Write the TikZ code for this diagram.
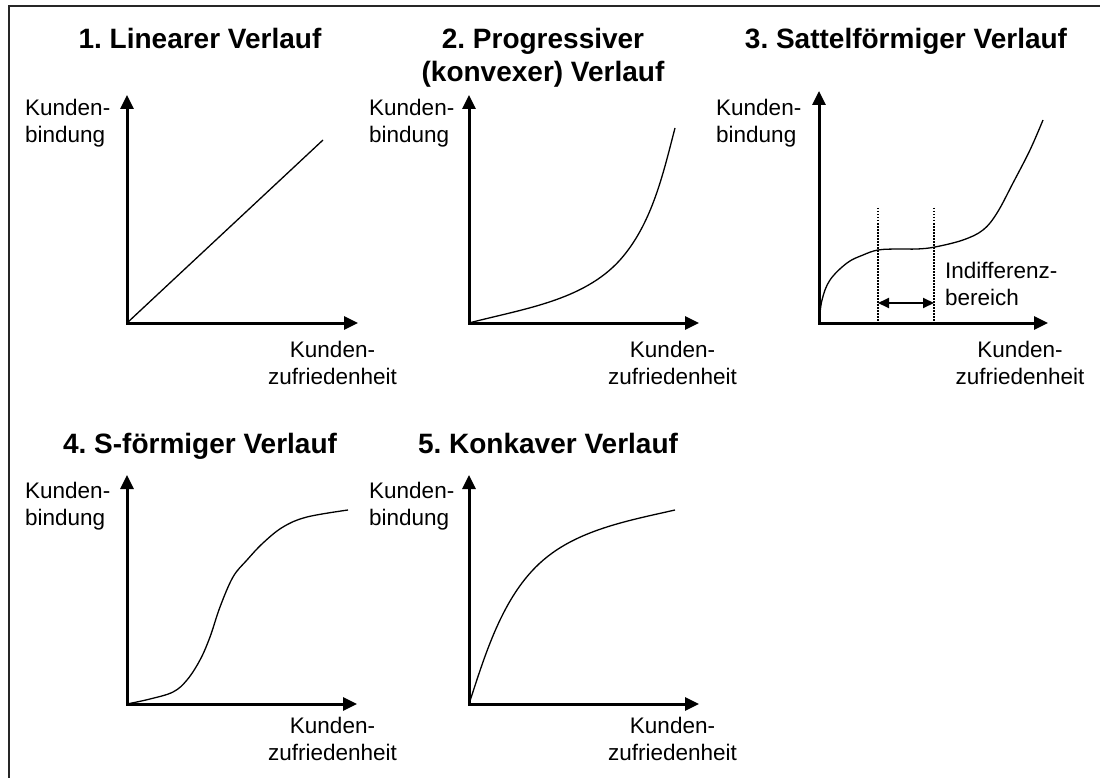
\documentclass[tikz,border=0pt]{standalone}
\usepackage{fontspec}
\setmainfont{Liberation Sans}
\usetikzlibrary{arrows.meta}
\frenchspacing
\tikzset{
  axisline/.style={line width=3pt, line join=miter, {Triangle[length=14pt,width=13pt]}-{Triangle[length=14pt,width=13pt]}},
  curveline/.style={line width=1.3pt, line join=round},
  ttl/.style={font=\fontsize{28}{33}\selectfont\bfseries, align=center, inner sep=0pt, anchor=base},
  lab/.style={font=\fontsize{22.5}{27}\selectfont, inner sep=0pt},
  ylab/.style={lab, align=left, anchor=base west},
  xlab/.style={lab, align=center, anchor=base},
  guideline/.style={line width=1.5pt, dash pattern=on 1.5pt off 1.5pt},
  rangearrow/.style={line width=2pt, {Triangle[length=11pt,width=10pt]}-{Triangle[length=11pt,width=10pt]}},
  frameline/.style={line width=1.5pt, black!85}
}
\begin{document}
\begin{tikzpicture}[x=1pt, y=-1pt]
\useasboundingbox (0,0) rectangle (1100,778);
% frame
\coordinate (fbl) at (9,778);
\coordinate (ftl) at (9,6);
\coordinate (ftr) at (1100,6);
\draw[frameline] (fbl) -- (ftl) -- (ftr);

% (multi-line nodes: base = baseline of the last line)
% ---------- Panel 1
\coordinate (o1) at (127,323);
\coordinate (y1) at (127,95);
\coordinate (x1) at (358,323);
\node[ttl] (t1) at (200,49) {1. Linearer Verlauf};
\node[ylab] (yl1) at (25,143) {Kunden-\\bindung};
\node[xlab] (xl1) at (332.5,384) {Kunden-\\zufriedenheit};
\draw[axisline] (y1) -- (o1) -- (x1);
\coordinate (e1) at (323,140);
\draw[curveline] (o1) -- (e1);

% ---------- Panel 2
\coordinate (o2) at (469,323);
\coordinate (y2) at (469,95);
\coordinate (x2) at (699,323);
\node[ttl] (t2) at (543,82) {2. Progressiver\\(konvexer) Verlauf};
\node[ylab] (yl2) at (369,143) {Kunden-\\bindung};
\node[xlab] (xl2) at (672.5,384) {Kunden-\\zufriedenheit};
\draw[axisline] (y2) -- (o2) -- (x2);
\coordinate (m2) at (620,260);
\coordinate (e2) at (675,128);
\draw[curveline] (o2) .. controls (522,309) and (583,301) .. (m2)
                      .. controls (652,224) and (663,174) .. (e2);

% ---------- Panel 3
\coordinate (o3) at (819,323);
\coordinate (y3) at (819,91);
\coordinate (x3) at (1048,323);
\node[ttl] (t3) at (906,49) {3. Sattelförmiger Verlauf};
\node[ylab] (yl3) at (716,143) {Kunden-\\bindung};
\node[xlab] (xl3) at (1020,384) {Kunden-\\zufriedenheit};
\coordinate (d1t) at (878,208);
\coordinate (d1b) at (878,323);
\coordinate (d2t) at (934,208);
\coordinate (d2b) at (934,323);
\draw[guideline] (d1t) -- (d1b);
\draw[guideline] (d2t) -- (d2b);
\coordinate (r1) at (878,303);
\coordinate (r2) at (934,303);
\draw[rangearrow] (r1) -- (r2);
\node[ylab] (ind) at (945,305) {Indifferenz-\\bereich};
\draw[axisline] (y3) -- (o3) -- (x3);
\draw[curveline] plot[smooth, tension=0.6] coordinates {(819,323) (822,300) (830,280) (847,263) (863,255) (878,250) (897,249) (917,249) (935,247) (963,240) (983,230) (997,213) (1013,183) (1030,150) (1043,120)};

% ---------- Panel 4
\coordinate (o4) at (127,704);
\coordinate (y4) at (127,475);
\coordinate (x4) at (357,704);
\node[ttl] (t4) at (200,453) {4. S-förmiger Verlauf};
\node[ylab] (yl4) at (25,525) {Kunden-\\bindung};
\node[xlab] (xl4) at (332.5,760) {Kunden-\\zufriedenheit};
\draw[axisline] (y4) -- (o4) -- (x4);
\draw[curveline] plot[smooth, tension=0.6] coordinates {(127,704) (150,699) (173,692) (187,680) (200,660) (210,637) (220,607) (233,577) (247,560) (263,543) (283,527) (307,517) (348,510)};

% ---------- Panel 5
\coordinate (o5) at (469,704);
\coordinate (y5) at (469,475);
\coordinate (x5) at (699,704);
\node[ttl] (t5) at (548,453) {5. Konkaver Verlauf};
\node[ylab] (yl5) at (369,525) {Kunden-\\bindung};
\node[xlab] (xl5) at (672.5,760) {Kunden-\\zufriedenheit};
\draw[axisline] (y5) -- (o5) -- (x5);
\coordinate (m5) at (547,557);
\coordinate (e5) at (675,510);
\draw[curveline] (o5) .. controls (486,652) and (504,591) .. (m5)
                      .. controls (582,529) and (631,520) .. (e5);
\end{tikzpicture}
\end{document}
